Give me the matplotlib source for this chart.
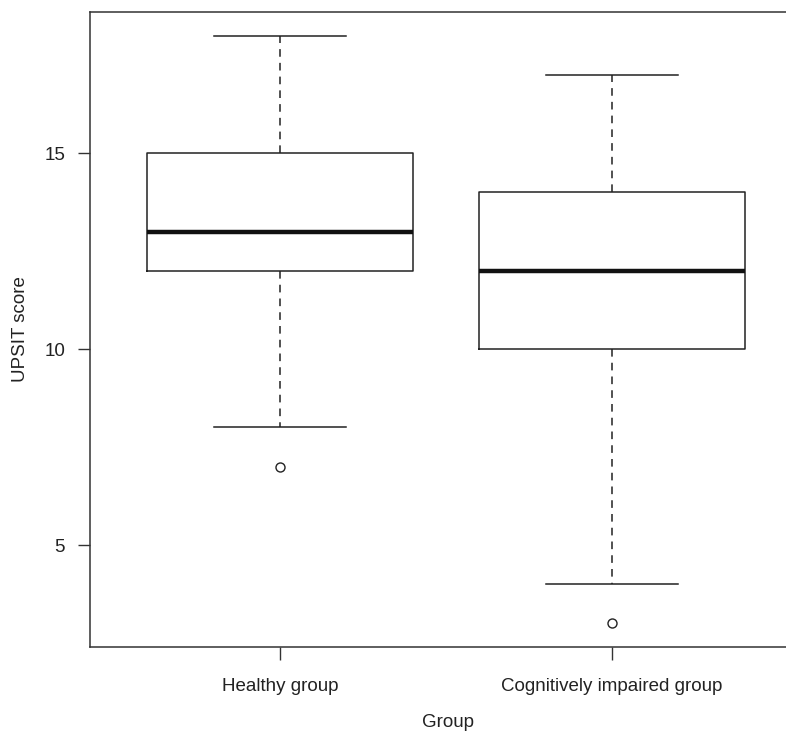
import matplotlib.pyplot as plt

# boxplot summary
groups = ["Healthy group", "Cognitively impaired group"]
whisker_low = [8, 4]
box_low = [12, 10]
medians = [13, 12]
box_high = [15, 14]
whisker_high = [18, 17]
outliers = [[7], [3]]

plt.rcParams['font.family'] = ['Liberation Sans', 'DejaVu Sans']

fig = plt.figure(figsize=(7.86, 7.34), dpi=100)
ax = fig.add_axes([90/786, 1 - 647/734, 715/786, 635/734])

stats = []
for i in range(len(groups)):
    stats.append({"med": medians[i], "q1": box_low[i], "q3": box_high[i],
                  "whislo": whisker_low[i], "whishi": whisker_high[i],
                  "fliers": outliers[i], "label": groups[i]})

col = "#222222"
ax.bxp(stats, positions=[1, 2], widths=0.8,
       boxprops=dict(color=col, linewidth=1.1),
       medianprops=dict(color="#111111", linewidth=3.2),
       whiskerprops=dict(color=col, linewidth=1.1, linestyle=(0, (5, 4))),
       capprops=dict(color=col, linewidth=1.1),
       flierprops=dict(marker="o", markersize=6.5, markerfacecolor="white",
                       markeredgecolor=col, markeredgewidth=1.0),
       capwidths=0.4)

ax.set_xlim(0.428, 2.581)
ax.set_ylim(2.4, 18.6)
ax.set_yticks([5, 10, 15])
ax.set_xticks([1, 2])
ax.set_xticklabels(groups)
ax.tick_params(axis="both", direction="out", length=9, width=1, color="#333333",
               labelsize=13.5, labelcolor="#222222")
ax.tick_params(axis="x", pad=13)
ax.tick_params(axis="y", pad=9)
for s in ax.spines.values():
    s.set_linewidth(1.1)
    s.set_color("#333333")

ax.set_ylabel("UPSIT score", fontsize=13.5, color="#222222")
ax.set_xlabel("Group", fontsize=13.5, labelpad=14, color="#222222")
ax.yaxis.set_label_coords(-0.086, 0.5)

fig.savefig("out.png", dpi=100)
